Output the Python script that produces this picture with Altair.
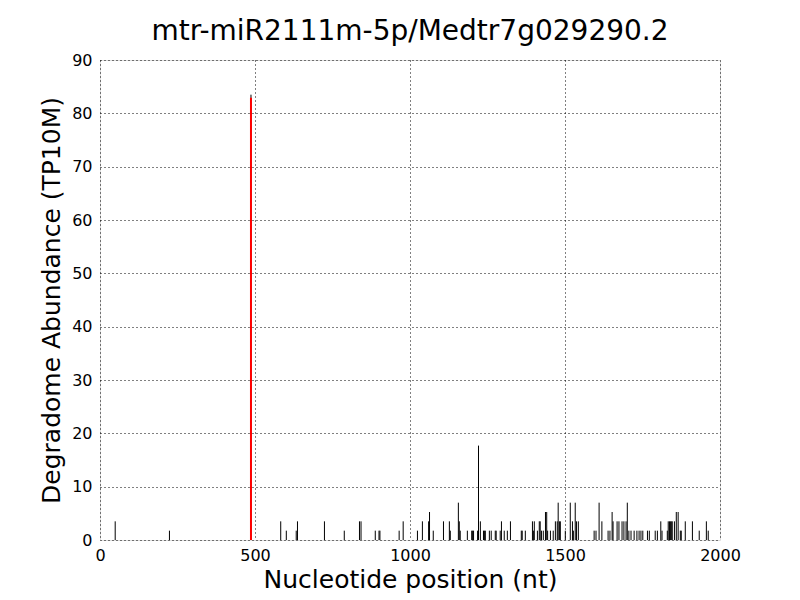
import altair as alt
import pandas as pd

title = "mtr-miR2111m-5p/Medtr7g029290.2"

positions = [49, 224, 487, 583, 601, 633, 637, 724, 788, 837, 842, 888, 900, 903, 965, 978,
             1024, 1040, 1060, 1063, 1075, 1108, 1127, 1130, 1156, 1159, 1162, 1185, 1199, 1202,
             1205, 1218, 1221, 1227, 1237, 1240, 1243, 1256, 1262, 1275, 1278, 1291, 1295, 1304,
             1314, 1324, 1359, 1362, 1372, 1395, 1398, 1401, 1411, 1417, 1420, 1424, 1430, 1437,
             1441, 1444, 1453, 1462, 1469, 1475, 1478, 1482, 1485, 1501, 1517, 1524, 1527, 1533,
             1537, 1543, 1594, 1600, 1610, 1619, 1639, 1645, 1652, 1655, 1668, 1674, 1684, 1690,
             1697, 1701, 1706, 1713, 1723, 1732, 1739, 1745, 1751, 1766, 1772, 1791, 1798, 1809,
             1813, 1830, 1833, 1837, 1840, 1843, 1846, 1853, 1859, 1865, 1872, 1875, 1888, 1911,
             1933, 1956, 1962]
abundance = [3.5, 1.75, 83.5, 3.5, 1.75, 1.75, 3.5, 3.5, 1.75, 3.5, 3.5, 1.75, 1.75, 1.75, 1.75, 3.5,
             1.75, 3.5, 3.5, 5.25, 1.75, 3.5, 3.5, 1.75, 7.0, 3.5, 1.75, 1.75, 1.75, 1.75,
             1.75, 1.75, 17.7, 3.5, 1.75, 1.75, 1.75, 1.75, 1.75, 1.75, 1.75, 1.75, 3.5, 1.75,
             1.75, 3.5, 1.75, 1.75, 1.75, 3.5, 1.75, 3.5, 1.75, 3.5, 3.5, 1.75, 1.75, 5.25,
             5.25, 1.75, 1.75, 1.75, 3.5, 3.5, 7.0, 3.5, 3.5, 1.75, 7.0, 3.5, 1.75, 7.0,
             3.5, 3.5, 1.75, 1.75, 7.0, 3.5, 1.75, 1.75, 5.25, 3.5, 3.5, 3.5, 3.5, 3.5,
             3.5, 7.0, 1.75, 1.75, 1.75, 1.75, 1.75, 1.75, 1.75, 1.75, 1.75, 1.75, 1.75, 3.5,
             1.75, 1.75, 3.5, 3.5, 3.5, 3.5, 3.5, 3.5, 5.25, 5.25, 1.75, 1.75, 3.5, 3.5,
             1.75, 3.5, 1.75]

cleavage_pos = [487]
cleavage_val = [82.9]

df = pd.DataFrame({"pos": positions, "val": abundance, "zero": [0] * len(positions)})
dfc = pd.DataFrame({"pos": cleavage_pos, "val": cleavage_val, "zero": [0]})

font = "DejaVu Sans"

xscale = alt.Scale(domain=[0, 2000], nice=False, zero=False)
yscale = alt.Scale(domain=[0, 90], nice=False)

common = dict(grid=True, gridColor="black", gridDash=[1, 3], gridOpacity=1, gridWidth=1,
              ticks=False, labelFontSize=16, titleFontSize=25,
              labelFont=font, titleFont=font, labelColor="black", titleColor="black",
              titleFontWeight="normal", domain=False, labelFlush=False, format="d")

xaxis = alt.Axis(title="Nucleotide position (nt)", values=[0, 500, 1000, 1500, 2000],
                 labelPadding=7, titlePadding=4, **common)
yaxis = alt.Axis(title="Degradome Abundance (TP10M)", values=list(range(0, 91, 10)),
                 labelPadding=8, titlePadding=7, **common)

bars = alt.Chart(df).mark_rule(color="black", strokeWidth=1).encode(
    x=alt.X("pos:Q", scale=xscale, axis=xaxis),
    y=alt.Y("zero:Q", scale=yscale, axis=yaxis),
    y2="val:Q",
)

red = alt.Chart(dfc).mark_rule(color="#ff0000", strokeWidth=2).encode(
    x=alt.X("pos:Q", scale=xscale),
    y=alt.Y("zero:Q", scale=yscale),
    y2="val:Q",
)

chart = alt.layer(bars, red).properties(
    width=620, height=480,
    title=alt.TitleParams(title, font=font, fontSize=28, fontWeight="normal", color="black", offset=6),
    autosize=alt.AutoSizeParams(type="none"),
    padding={"left": 92, "top": 52, "right": 60, "bottom": 58},
).configure_view(stroke="black", strokeWidth=1).configure(background="white")

chart.save("out.html", embed_options={"renderer": "svg", "actions": False})
